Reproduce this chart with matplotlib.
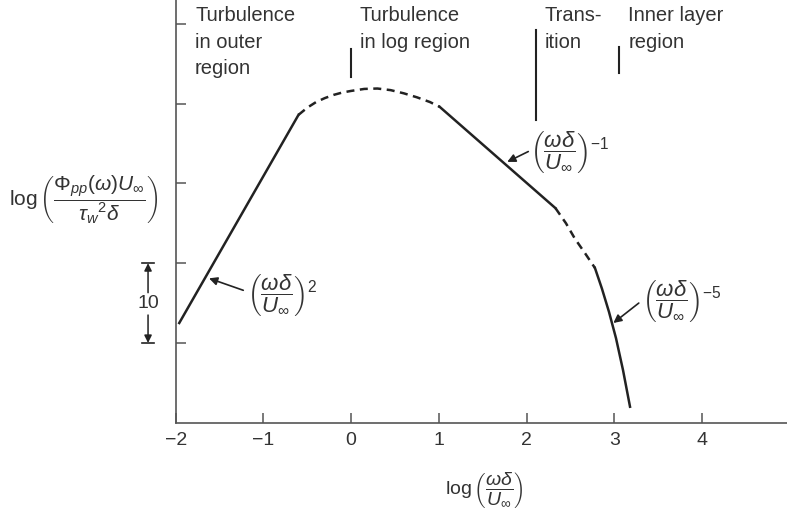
import matplotlib.pyplot as plt

plt.rcParams['font.family'] = ['Liberation Sans', 'DejaVu Sans']
plt.rcParams['mathtext.fontset'] = 'custom'
plt.rcParams['mathtext.rm'] = 'Liberation Sans'
plt.rcParams['mathtext.it'] = 'Liberation Sans:italic'
plt.rcParams['mathtext.bf'] = 'Liberation Sans:bold'

INK = '#222222'
TEXT = '#333333'
AXIS = '#555555'

# spectrum pieces: solid where the scaling law holds, dashed in between
outer_x = [-1.96, -0.6]
outer_y = [12.5, 38.6]
peak_x = [-0.6, -0.5, -0.4, -0.3, -0.2, -0.1, 0.0, 0.15, 0.3, 0.45, 0.6,
          0.75, 0.9, 1.01]
peak_y = [38.6, 39.5, 40.2, 40.7, 41.1, 41.4, 41.6, 41.85, 41.9, 41.7, 41.3,
          40.8, 40.2, 39.6]
log_x = [1.01, 2.33]
log_y = [39.6, 26.9]
trans_x = [2.33, 2.45, 2.55, 2.67, 2.78]
trans_y = [26.9, 25.0, 23.1, 21.2, 19.4]
inner_x = [2.78, 2.86, 2.94, 3.02, 3.10, 3.18]
inner_y = [19.4, 16.8, 13.9, 10.6, 6.6, 2.0]

x_ticks = [-2, -1, 0, 1, 2, 3, 4]
x_tick_labels = ['\u22122', '\u22121', '0', '1', '2', '3', '4']
y_ticks = [10, 20, 30, 40, 50]

# region names and the short dividers between them
region_names = ['Turbulence\nin outer\nregion', 'Turbulence\nin log region',
                'Trans-\nition', 'Inner layer\nregion']
region_x = [-1.78, 0.10, 2.21, 3.16]
divider_x = [0.0, 2.11, 3.06]
divider_lo = [43.4, 38.0, 43.9]
divider_hi = [46.8, 49.3, 47.1]

frac = r'\left(\dfrac{\omega\delta}{U_\infty}\right)'
slope_labels = ['$' + frac + '^2$', '$' + frac + '^{-1}$',
                '$' + frac + '^{-5}$']
slope_text_xy = [(-1.185, 16.0), (2.04, 34.0), (3.32, 15.2)]
slope_tail_xy = [(-1.23, 16.6), (2.02, 34.0), (3.28, 15.0)]
slope_tip_xy = [(-1.62, 18.1), (1.78, 32.7), (2.99, 12.5)]

fig = plt.figure(figsize=(7.87, 5.18), dpi=100)
ax = fig.add_axes([0.2233, 0.184, 0.7767, 0.816])

lw = 1.8
dash = (3.2, 2.2)
ax.plot(outer_x, outer_y, color=INK, lw=lw)
ax.plot(peak_x, peak_y, color=INK, lw=lw, dashes=dash)
ax.plot(log_x, log_y, color=INK, lw=lw)
ax.plot(trans_x, trans_y, color=INK, lw=lw, dashes=dash)
ax.plot(inner_x, inner_y, color=INK, lw=lw)

for x, lo, hi in zip(divider_x, divider_lo, divider_hi):
    ax.plot([x, x], [lo, hi], color=INK, lw=1.5)

for name, x in zip(region_names, region_x):
    ax.text(x, 52.2, name, ha='left', va='top', fontsize=14.5,
            color=TEXT, linespacing=1.5)

for label, txy, tail, tip in zip(slope_labels, slope_text_xy,
                                 slope_tail_xy, slope_tip_xy):
    ax.text(txy[0], txy[1], label, ha='left', va='center', fontsize=16,
            color=TEXT)
    ax.annotate('', xy=tip, xytext=tail,
                arrowprops=dict(arrowstyle='-|>', color=INK, lw=1.2,
                                mutation_scale=12, shrinkA=0, shrinkB=0))

ax.set_xlim(-2, 4.97)
ax.set_ylim(0, 53.0)
ax.set_xticks(x_ticks)
ax.set_xticklabels(x_tick_labels)
ax.set_yticks(y_ticks)
ax.set_yticklabels([])
ax.tick_params(axis='both', direction='in', length=7, width=1.1,
               color=AXIS, labelsize=14, labelcolor=TEXT)
ax.tick_params(axis='x', pad=7)

for side in ['top', 'right']:
    ax.spines[side].set_visible(False)
for side in ['left', 'bottom']:
    ax.spines[side].set_color(AXIS)
    ax.spines[side].set_linewidth(1.2)

# scale bar: one tick spacing equals 10
yt = ax.get_yaxis_transform()
for y in [10, 20]:
    ax.plot([-0.055, -0.0355], [y, y], color=INK, lw=1.2,
            transform=yt, clip_on=False)
ax.annotate('', xy=(-0.0453, 20), xycoords=yt,
            xytext=(-0.0453, 16.3), textcoords=yt,
            arrowprops=dict(arrowstyle='-|>', color=INK, lw=1.1,
                            mutation_scale=11, shrinkA=0, shrinkB=0))
ax.annotate('', xy=(-0.0453, 10), xycoords=yt,
            xytext=(-0.0453, 13.5), textcoords=yt,
            arrowprops=dict(arrowstyle='-|>', color=INK, lw=1.1,
                            mutation_scale=11, shrinkA=0, shrinkB=0))
ax.text(-0.0453, 14.9, '10', transform=yt, ha='center', va='center',
        fontsize=14, color=TEXT)

fig.text(0.012, 0.615,
         r'$\log\left(\dfrac{\Phi_{pp}(\omega)U_\infty}{{\tau_w}^2\delta}\right)$',
         ha='left', va='center', fontsize=15, color=TEXT)
fig.text(0.616, 0.054, r'$\log\left(\dfrac{\omega\delta}{U_\infty}\right)$',
         ha='center', va='center', fontsize=14, color=TEXT)

fig.savefig('out.png', dpi=100)
